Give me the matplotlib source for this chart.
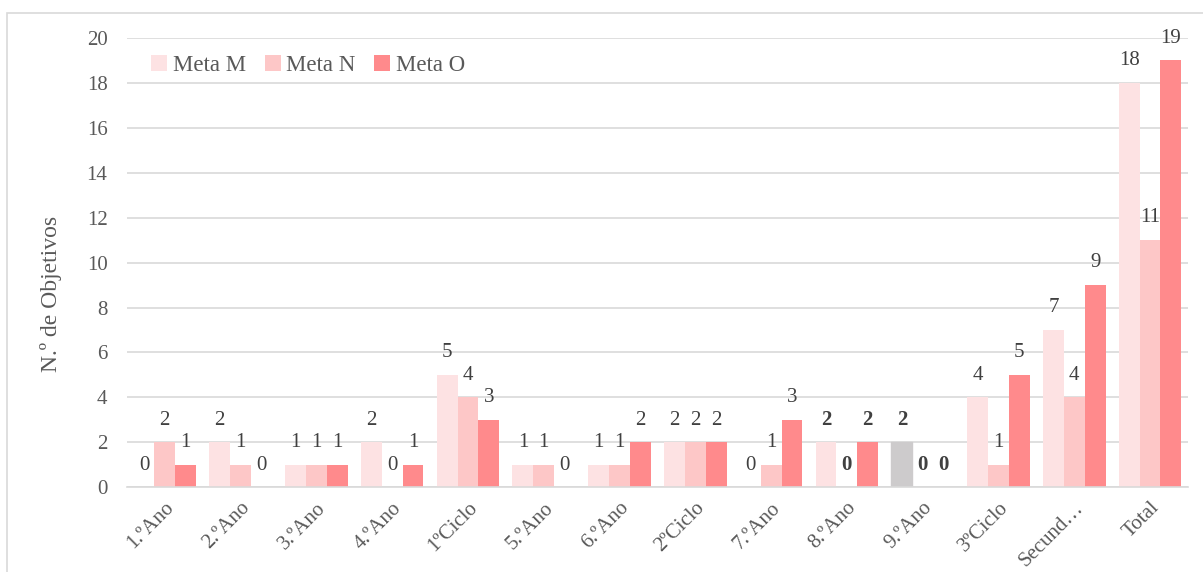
import numpy as np
import matplotlib.pyplot as plt
from matplotlib.patches import Rectangle

plt.rcParams['font.family'] = ['Liberation Serif', 'DejaVu Serif']

categories = ["1.ºAno", "2.ºAno", "3.ºAno", "4.ºAno", "1ºCiclo", "5.ºAno", "6.ºAno",
              "2ºCiclo", "7.ºAno", "8.ºAno", "9.ºAno", "3ºCiclo", "Secund…", "Total"]
meta_m = [0, 2, 1, 2, 5, 1, 1, 2, 0, 2, 2, 4, 7, 18]
meta_n = [2, 1, 1, 0, 4, 1, 1, 2, 1, 0, 0, 1, 4, 11]
meta_o = [1, 0, 1, 1, 3, 0, 2, 2, 3, 2, 0, 5, 9, 19]
series_names = ["Meta M", "Meta N", "Meta O"]
colors = ["#FDE2E3", "#FDC7C7", "#FF8A8C"]
bold_cats = ["8.ºAno", "9.ºAno"]

fig = plt.figure(figsize=(12.03, 5.72), dpi=100)
ax = fig.add_axes([0.1055, 0.148, 0.882, 0.786])

# light frame around the chart
fig.patches.append(Rectangle((7 / 1203, -0.1), 1.2, 1 - 13 / 572 + 0.1,
                             transform=fig.transFigure, fill=False,
                             edgecolor="#D9D9D9", linewidth=1.2))

x = np.arange(len(categories))
w = 0.275
for i, (vals, name, c) in enumerate(zip([meta_m, meta_n, meta_o], series_names, colors)):
    pos = x + (i - 1) * w
    bars = ax.bar(pos, vals, w, color=c, label=name, zorder=2)
    for j, (b, v) in enumerate(zip(bars, vals)):
        if categories[j] == "9.ºAno" and i == 0:
            b.set_color("#CDCBCC")
        weight = "bold" if categories[j] in bold_cats else "normal"
        ax.annotate(str(v), (pos[j], v), xytext=(0, 16), textcoords="offset points",
                    ha="center", va="center", fontsize=15, color="#404040",
                    fontweight=weight)

ax.set_ylim(0, 20)
ax.set_yticks(range(0, 21, 2))
ax.set_xlim(-0.5, len(categories) - 0.5)
ax.set_xticks(x)
ax.set_xticklabels(categories, rotation=45, ha="right", rotation_mode="anchor")
ax.tick_params(axis="both", length=0, labelsize=15, labelcolor="#595959")
ax.tick_params(axis="y", pad=14)
ax.tick_params(axis="x", pad=8)
ax.grid(axis="y", color="#D9D9D9", linewidth=1.2, zorder=0)
for s in ["top", "right", "left"]:
    ax.spines[s].set_visible(False)
ax.spines["bottom"].set_color("#D9D9D9")
ax.spines["bottom"].set_linewidth(1.2)
ax.set_ylabel("N.º de Objetivos", fontsize=17, color="#595959")
ax.yaxis.set_label_coords(-0.061, 0.43)

leg = ax.legend(loc="upper left", bbox_to_anchor=(0.01, 0.993), ncol=3, frameon=False,
                fontsize=16.5, handlelength=0.7, handleheight=0.7, handletextpad=0.25,
                columnspacing=0.8, labelcolor="#595959", borderaxespad=0.2)

fig.savefig("out.png", dpi=100)
